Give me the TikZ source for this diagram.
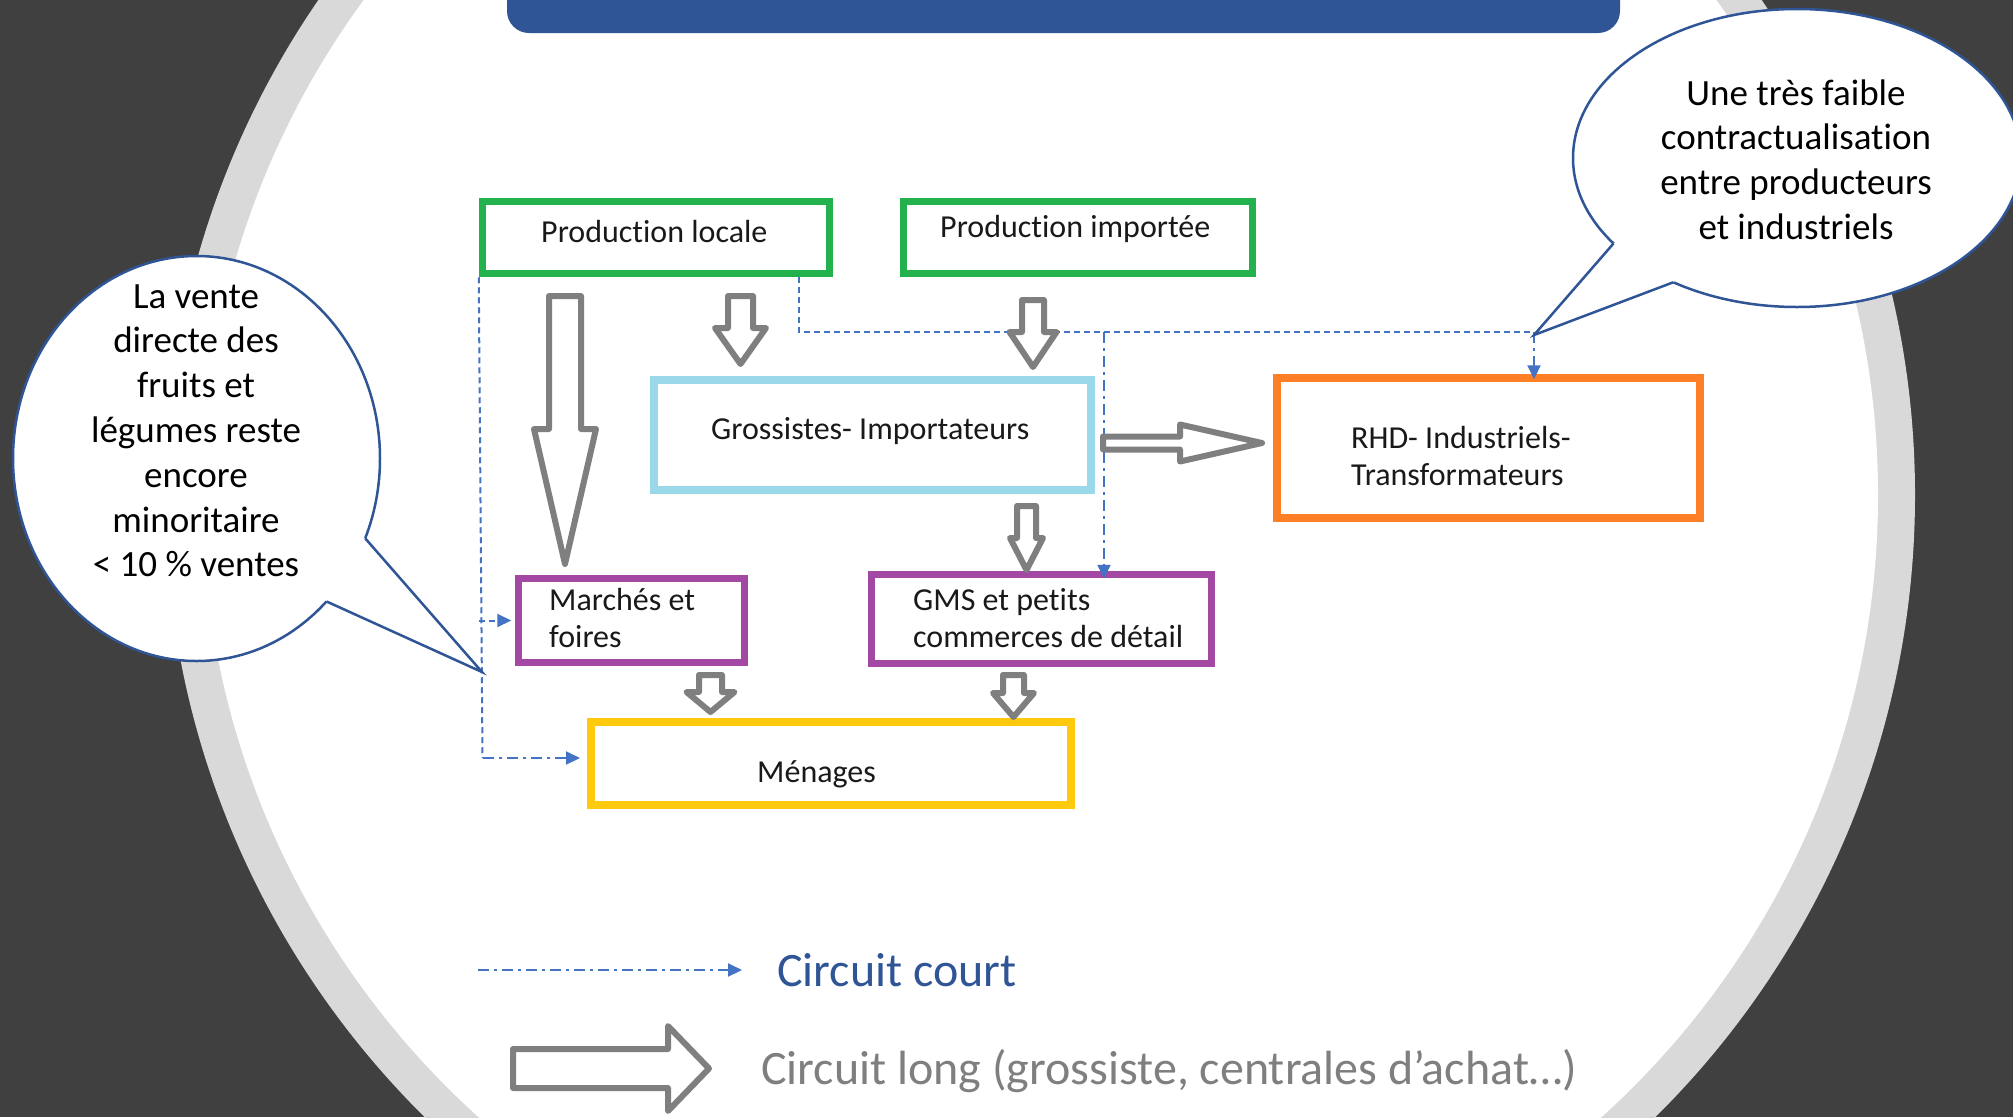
\documentclass[tikz,border=0pt]{standalone}
\usepackage{fontspec}
\setmainfont{Carlito}[Ligatures=NoCommon]
\usetikzlibrary{arrows.meta,calc}

\definecolor{bgdark}{HTML}{404040}
\definecolor{ringgrey}{HTML}{D9D9D9}
\definecolor{titleblue}{HTML}{2F5597}
\definecolor{linkblue}{HTML}{4472C4}
\definecolor{pgreen}{HTML}{22B14C}
\definecolor{pcyan}{HTML}{99D9EA}
\definecolor{porange}{HTML}{FF7F27}
\definecolor{ppurple}{HTML}{A349A4}
\definecolor{pyellow}{HTML}{FFC90E}
\definecolor{arrowgrey}{HTML}{7F7F7F}

\tikzset{
  box/.style={draw, rectangle, inner sep=0pt, line width=7.5pt},
  boxtext/.style={anchor=base west, inner sep=0pt, font=\fontsize{32}{37.5}\selectfont, text=black!90},
  blockarr/.style={draw=arrowgrey, fill=white, line width=6pt, line join=round},
  sdash/.style={draw=linkblue, line width=2pt, dash pattern=on 6pt off 4pt},
  ddot/.style={draw=linkblue, line width=2pt, dash pattern=on 11pt off 5pt on 3pt off 5pt},
  bluetip/.style={-{Triangle[length=14pt,width=13pt,fill=linkblue]}},
  bubble/.style={draw=titleblue, fill=white, line width=2.5pt},
  bubbletext/.style={anchor=base, inner sep=0pt, font=\fontsize{37}{44.8}\selectfont, text=black},
  legendtext/.style={anchor=base west, inner sep=0pt, font=\fontsize{48}{56}\selectfont},
}

% hollow block arrow: start point, direction, length, shaft half width, head half width, head length
\newcommand{\hollowarrow}[6]{%
  \begin{scope}[shift={#1}, rotate=#2]
    \draw[blockarr] (0,-#4) -- ({#3-#6},-#4) -- ({#3-#6},-#5) -- (#3,0)
      -- ({#3-#6},#5) -- ({#3-#6},#4) -- (0,#4) -- cycle;
  \end{scope}}

\begin{document}
\begin{tikzpicture}[x=1pt, y=-1pt]
  \useasboundingbox (0,0) rectangle (2013,1117);
  \clip (0,0) rectangle (2013,1117);

  % slide background: dark frame, grey ring, white disc, title bar
  \fill[bgdark] (0,0) rectangle (2013,1117);
  \fill[ringgrey] (1040,495) circle [radius=875pt];
  \fill[white] (1040,495) circle [radius=838pt];
  \fill[titleblue, rounded corners=22pt] (507,-40) rectangle (1620,33);

  % boxes of the supply chain
  \node[box, draw=pgreen, minimum width=347pt, minimum height=72pt] (pl) at (656,237.5) {};
  \node[box, draw=pgreen, minimum width=349pt, minimum height=72pt] (pi) at (1078,237.5) {};
  \node[box, draw=pcyan, minimum width=437pt, minimum height=110pt] (gi) at (872.5,435) {};
  \node[box, draw=porange, minimum width=423pt, minimum height=140pt] (rhd) at (1488.5,448) {};
  \node[box, draw=ppurple, minimum width=226pt, minimum height=84pt] (mar) at (631.5,620.5) {};
  \node[box, draw=ppurple, minimum width=340pt, minimum height=89pt] (gms) at (1041.5,619) {};
  \node[box, draw=pyellow, minimum width=480pt, minimum height=83pt] (men) at (831,763.5) {};

  % short circuit (dashed blue links)
  \coordinate (j1) at (799,332);
  \coordinate (j2) at (1104,332);
  \coordinate (j3) at (1534,332);
  \coordinate (lb) at (482.5,758);
  \draw[sdash] (pl.south west) -- (lb);
  \draw[sdash, bluetip] (pl.south west |- mar.west) -- ($(mar.west)+(-3.5,0)$);
  \draw[ddot, bluetip] (lb) -- (580,758);
  \draw[sdash] (pl.south west -| j1) -- (j1) -- (j3);
  \draw[ddot, bluetip] (j3) -- ($(j3 |- rhd.north)+(0,5)$);
  \draw[ddot, bluetip] (j2) -- ($(j2 |- gms.north)+(0,8)$);

  % long circuit (hollow grey arrows)
  \hollowarrow{(565,296)}{-90}{268}{16}{31}{135}
  \hollowarrow{(740.5,296)}{-90}{68}{12.5}{25.5}{36}
  \hollowarrow{(1033,300)}{-90}{67}{11}{23.5}{35}
  \hollowarrow{(1026.5,506)}{-90}{64}{9.5}{16.5}{32}
  \hollowarrow{(1103,443)}{0}{159}{6.5}{18.5}{82}
  \hollowarrow{(710.5,675)}{-90}{37}{11.5}{24}{20}
  \hollowarrow{(1013.5,675)}{-90}{42}{10.5}{20.5}{24}

  % box labels
  \node[boxtext] (pl-t) at (541,242) {Production locale};
  \node[boxtext] (pi-t) at (940,237) {Production importée};
  \node[boxtext] (gi-t) at (711,439) {Grossistes- Importateurs};
  \node[boxtext] (rhd-t) at (1351,448) {\begin{tabular}[t]{@{}l@{}}RHD- Industriels-\\Transformateurs\end{tabular}};
  \node[boxtext] (mar-t) at (549,610) {\begin{tabular}[t]{@{}l@{}}Marchés et\\foires\end{tabular}};
  \node[boxtext] (gms-t) at (913,610) {\begin{tabular}[t]{@{}l@{}}GMS et petits\\commerces de détail\end{tabular}};
  \node[boxtext] (men-t) at (757,782) {Ménages};

  % callout on the left
  \coordinate (lc) at (196.5,458.5);
  \coordinate (lb1) at ({196.5+183.5*cos(23.2)},{458.5+202.5*sin(23.2)});
  \coordinate (lb2) at ({196.5+183.5*cos(44.9)},{458.5+202.5*sin(44.9)});
  \coordinate (ltip) at (482,672);
  \draw[bubble] (lc) ellipse [x radius=183.5pt, y radius=202.5pt];
  \fill[white] (lc) -- (lb1) -- (ltip) -- (lb2) -- cycle;
  \draw[titleblue, line width=2.5pt] (lb1) -- (ltip) -- (lb2);
  \node[bubbletext] (lnote) at (196,308) {\begin{tabular}[t]{@{}c@{}}La vente\\directe des\\fruits et\\légumes reste\\encore\\minoritaire\\< 10 \% ventes\end{tabular}};

  % callout on the right
  \coordinate (rc) at (1797,158);
  \coordinate (rb1) at ({1797+224*cos(145)},{158+149*sin(145)});
  \coordinate (rb2) at ({1797+224*cos(123.5)},{158+149*sin(123.5)});
  \coordinate (rtip) at (1534,335);
  \draw[bubble] (rc) ellipse [x radius=224pt, y radius=149pt];
  \fill[white] (rc) -- (rb1) -- (rtip) -- (rb2) -- cycle;
  \draw[titleblue, line width=2.5pt] (rb1) -- (rtip) -- (rb2);
  \node[bubbletext] (rnote) at (1796,105) {\begin{tabular}[t]{@{}c@{}}Une très faible\\contractualisation\\entre producteurs\\et industriels\end{tabular}};

  % legend
  \coordinate (lg1) at (478,970);
  \coordinate (lg2) at (742,970);
  \draw[ddot, bluetip] (lg1) -- (lg2);
  \node[legendtext, text=titleblue] (leg-court) at (777,986) {Circuit court};
  \hollowarrow{(513,1068.5)}{0}{196}{19.5}{42.5}{41}
  \node[legendtext, text=arrowgrey] (leg-long) at (761,1084) {Circuit long (grossiste, centrales d’achat…)};
\end{tikzpicture}
\end{document}
